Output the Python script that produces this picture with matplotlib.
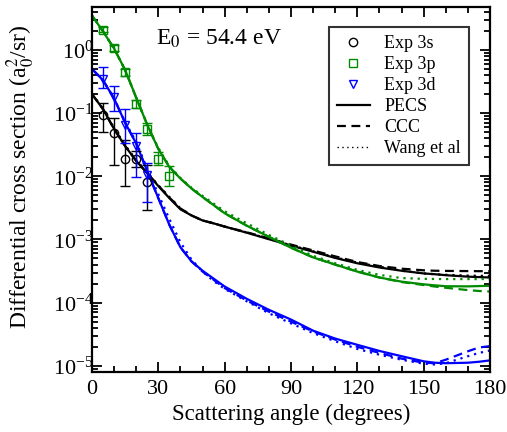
import matplotlib
matplotlib.use("Agg")
import matplotlib.pyplot as plt
from matplotlib.lines import Line2D
from matplotlib.ticker import LogLocator, MultipleLocator, NullFormatter
import numpy as np

plt.rcParams['font.family'] = ['Liberation Serif', 'DejaVu Serif']
plt.rcParams['mathtext.fontset'] = 'stix'

GREEN = '#008b00'
BLUE = '#0000ff'

# ---- experiment (angle in degrees, DCS in a0^2/sr, error bar low/high)
exp_ang = [5, 10, 15, 20, 25]
exp3s = [0.093, 0.049, 0.019, 0.019, 0.008]
exp3s_lo = [0.050, 0.0152, 0.0069, 0.014, 0.0029]
exp3s_hi = [0.143, 0.084, 0.037, 0.025, 0.0151]

exp3d = [0.35, 0.18, 0.065, 0.030, 0.0106]
exp3d_lo = [0.25, 0.11, 0.034, 0.0098, 0.0039]
exp3d_hi = [0.53, 0.27, 0.115, 0.048, 0.016]

exp3p_ang = [5, 10, 15, 20, 25, 30, 35]
exp3p = [2.1, 1.07, 0.44, 0.142, 0.057, 0.019, 0.0102]
exp3p_lo = [1.9, 0.96, 0.38, 0.122, 0.045, 0.0152, 0.0069]
exp3p_hi = [2.3, 1.18, 0.50, 0.162, 0.069, 0.0245, 0.0146]

# ---- theory
th_ang = [0, 5, 10, 15, 20, 25, 30, 35, 40, 45, 50, 55, 60, 70, 80, 90,
          100, 110, 120, 130, 140, 150, 155, 160, 170, 175, 180]

pecs_3s = [0.20, 0.115, 0.056, 0.030, 0.0175, 0.0112, 0.0070, 0.0045, 0.0030,
           0.0024, 0.0020, 0.0018, 0.0016, 0.00128, 0.00101, 0.00080,
           0.00064, 0.00051, 0.00042, 0.00036, 0.00032, 0.00029, 0.000282,
           0.000272, 0.000258, 0.000254, 0.000250]
ccc_3s = [0.20, 0.115, 0.056, 0.030, 0.0175, 0.0112, 0.0071, 0.0046, 0.0031,
          0.0024, 0.0020, 0.0018, 0.0016, 0.00130, 0.00104, 0.00083,
          0.00067, 0.00054, 0.00044, 0.00038, 0.000345, 0.000325, 0.00032,
          0.000318, 0.000316, 0.000315, 0.000315]
wang_3s = [0.20, 0.118, 0.058, 0.031, 0.018, 0.0115, 0.0072, 0.0047, 0.0031,
           0.0024, 0.0020, 0.0018, 0.0016, 0.00129, 0.00102, 0.00081,
           0.00065, 0.00052, 0.00043, 0.00037, 0.00032, 0.00029, 0.000282,
           0.000276, 0.000268, 0.000266, 0.000265]

pecs_3p = [3.5, 1.96, 1.05, 0.48, 0.175, 0.065, 0.027, 0.014, 0.0092, 0.0064,
           0.0047, 0.0035, 0.0026, 0.00165, 0.00110, 0.00074, 0.00052,
           0.00040, 0.00031, 0.00025, 0.000215, 0.000195, 0.000188, 0.000182,
           0.000181, 0.000183, 0.000185]
ccc_3p = [3.5, 1.96, 1.05, 0.48, 0.175, 0.065, 0.027, 0.014, 0.0092, 0.0064,
          0.0047, 0.0035, 0.0026, 0.00165, 0.00110, 0.00074, 0.00052,
          0.00040, 0.00031, 0.00025, 0.000212, 0.00019, 0.00018, 0.000172,
          0.000158, 0.000153, 0.000150]
wang_3p = [3.5, 1.96, 1.05, 0.48, 0.175, 0.066, 0.028, 0.0145, 0.0094, 0.0066,
           0.0049, 0.0037, 0.0028, 0.00180, 0.00118, 0.00080, 0.00055,
           0.00042, 0.00033, 0.000275, 0.000245, 0.000238, 0.000237,
           0.000236, 0.000236, 0.000236, 0.000237]

pecs_3d = [0.50, 0.33, 0.17, 0.070, 0.033, 0.012, 0.0045, 0.0017, 0.00075,
           0.00045, 0.00032, 0.00024, 0.00018, 0.000115, 7.7e-5, 5.4e-5,
           3.6e-5, 2.7e-5, 2.15e-5, 1.72e-5, 1.42e-5, 1.18e-5, 1.12e-5,
           1.10e-5, 1.12e-5, 1.16e-5, 1.22e-5]
ccc_3d = [0.50, 0.33, 0.17, 0.070, 0.033, 0.012, 0.0045, 0.0017, 0.00075,
          0.00045, 0.00031, 0.00023, 0.00017, 0.000108, 7.2e-5, 5.0e-5,
          3.5e-5, 2.6e-5, 2.0e-5, 1.6e-5, 1.3e-5, 1.12e-5, 1.1e-5,
          1.25e-5, 1.7e-5, 1.95e-5, 2.05e-5]
wang_3d = [0.50, 0.33, 0.17, 0.072, 0.035, 0.013, 0.0052, 0.0021, 0.0009,
           0.00048, 0.00031, 0.00022, 0.000165, 0.000105, 6.8e-5, 4.7e-5,
           3.3e-5, 2.45e-5, 1.85e-5, 1.5e-5, 1.25e-5, 1.08e-5, 1.05e-5,
           1.1e-5, 1.42e-5, 1.6e-5, 1.75e-5]

fig = plt.figure(figsize=(5.07, 4.32), dpi=100)
ax = fig.add_axes([0.1815, 0.139, 0.785, 0.845])

lw = 1.6
for col, p, c, w in [('k', pecs_3s, ccc_3s, wang_3s),
                     (GREEN, pecs_3p, ccc_3p, wang_3p),
                     (BLUE, pecs_3d, ccc_3d, wang_3d)]:
    ax.plot(th_ang, w, color=col, lw=lw, ls=(0, (1, 2.2)))
    ax.plot(th_ang, c, color=col, lw=lw, ls=(0, (4, 2.5)))
    ax.plot(th_ang, p, color=col, lw=lw, ls='-')


def exp_points(x, y, lo, hi, col, mk):
    y = np.array(y)
    err = [y - np.array(lo), np.array(hi) - y]
    ax.errorbar(x, y, yerr=err, fmt='none', ecolor=col, elinewidth=1.0,
                capsize=3.5, capthick=1.0)
    ax.plot(x, y, ls='none', marker=mk, ms=6, mfc='none', mec=col, mew=1.0)


exp_points(exp_ang, exp3s, exp3s_lo, exp3s_hi, 'k', 'o')
exp_points(exp3p_ang, exp3p, exp3p_lo, exp3p_hi, GREEN, 's')
exp_points(exp_ang, exp3d, exp3d_lo, exp3d_hi, BLUE, 'v')

ax.set_yscale('log')
ax.set_xlim(0, 180)
ax.set_ylim(8.0e-6, 4.8)
ax.xaxis.set_major_locator(MultipleLocator(30))
ax.xaxis.set_minor_locator(MultipleLocator(10))
ax.yaxis.set_major_locator(LogLocator(base=10, numticks=10))
ax.yaxis.set_minor_locator(LogLocator(base=10, subs=np.arange(2, 10), numticks=20))
ax.yaxis.set_minor_formatter(NullFormatter())
ax.tick_params(which='both', direction='in', top=True, right=True, width=1.3)
ax.tick_params(which='major', length=7, labelsize=16)
ax.tick_params(which='minor', length=4)
ax.tick_params(axis='x', which='major', pad=6)
ax.tick_params(axis='y', which='major', pad=-1)
for s in ax.spines.values():
    s.set_linewidth(1.6)

ax.set_xlabel('Scattering angle (degrees)', fontsize=16.5, labelpad=3)
ax.set_ylabel(r'Differential cross section (a$_0^2$/sr)', fontsize=17)
ax.yaxis.set_label_coords(-0.139, 0.535)

ax.text(0.161, 0.896, r'E$_0$ = 54.4 eV', transform=ax.transAxes, fontsize=17)

handles = [
    Line2D([], [], ls='none', marker='o', ms=6, mfc='none', mec='k'),
    Line2D([], [], ls='none', marker='s', ms=6, mfc='none', mec=GREEN),
    Line2D([], [], ls='none', marker='v', ms=6, mfc='none', mec=BLUE),
    Line2D([], [], color='k', lw=lw),
    Line2D([], [], color='k', lw=lw, ls=(0, (4, 2.5))),
    Line2D([], [], color='k', lw=1.0, ls=(0, (1, 2.5))),
]
labels = ['Exp 3s', 'Exp 3p', 'Exp 3d', 'PECS', 'CCC', 'Wang et al']
leg = ax.legend(handles, labels, loc='upper right', bbox_to_anchor=(0.947, 0.945),
                fontsize=13, frameon=True, fancybox=False, edgecolor='k',
                handlelength=1.8, handletextpad=0.8, labelspacing=0.22,
                borderpad=0.45, borderaxespad=0)
leg.get_frame().set_linewidth(1.5)

fig.savefig('out.png', dpi=100)
